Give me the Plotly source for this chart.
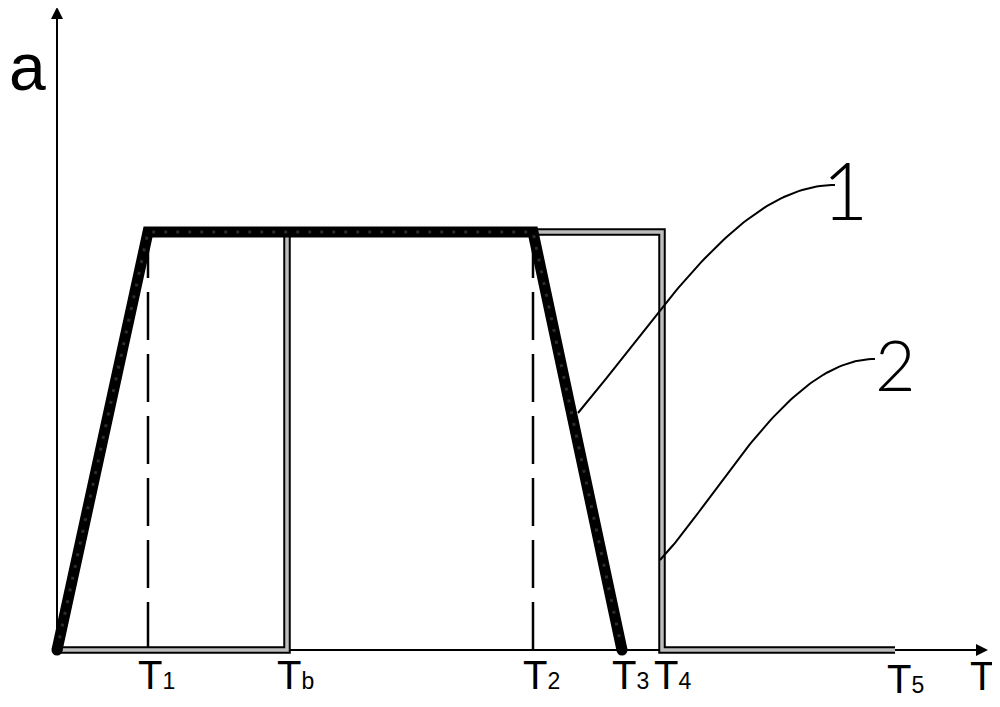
import numpy as np
import plotly.graph_objects as go

# ---- data (time positions and acceleration level) ----
T1, Tb, T2, T3, T4, T5 = 91, 230, 476, 565, 605, 838
A_MAX = 418
X_AXIS_END = 931
Y_AXIS_END = 643

c1_x = [0, T1, T2, T3]
c1_y = [0, A_MAX, A_MAX, 0]

c2_x = [0, Tb, Tb, T4, T4, T5]
c2_y = [0, 0, A_MAX, A_MAX, 0, 0]

tick_pos = [T1, Tb, T2, T3, T4, T5]
tick_sub = ["1", "b", "2", "3", "4", "5"]

leader1 = [(521, 237), (600, 330), (680, 465), (778, 465)]
leader2 = [(603, 90), (660, 150), (730, 291), (818, 291)]


def bezier(pts, n=80):
    t = np.linspace(0, 1, n)
    p = np.array(pts, dtype=float)
    b = ((1 - t) ** 3)[:, None] * p[0] + (3 * (1 - t) ** 2 * t)[:, None] * p[1] \
        + (3 * (1 - t) * t ** 2)[:, None] * p[2] + (t ** 3)[:, None] * p[3]
    return b[:, 0], b[:, 1]


fig = go.Figure()
for tx in (T1, T2):
    fig.add_trace(go.Scatter(x=[tx, tx], y=[0, A_MAX], mode="lines",
                             line=dict(color="black", width=2.5, dash="48px,14px"),
                             hoverinfo="skip"))
fig.add_trace(go.Scatter(x=[0, X_AXIS_END - 6], y=[0, 0], mode="lines",
                         line=dict(color="black", width=2), hoverinfo="skip"))
fig.add_trace(go.Scatter(x=[0, 0], y=[0, Y_AXIS_END - 6], mode="lines",
                         line=dict(color="black", width=2), hoverinfo="skip"))
fig.add_trace(go.Scatter(x=c2_x, y=c2_y, mode="lines",
                         line=dict(color="black", width=7.5), hoverinfo="skip"))
fig.add_trace(go.Scatter(x=c2_x, y=c2_y, mode="lines",
                         line=dict(color="#bdbdbd", width=3.5), hoverinfo="skip"))
fig.add_trace(go.Scatter(x=c1_x, y=c1_y, mode="lines",
                         line=dict(color="black", width=11), hoverinfo="skip"))
fig.add_trace(go.Scatter(x=c1_x, y=c1_y, mode="lines",
                         line=dict(color="#2c2c2c", width=3, dash="3px,9px"),
                         hoverinfo="skip"))
fig.add_trace(go.Scatter(x=[c1_x[0], c1_x[-1]], y=[c1_y[0], c1_y[-1]], mode="markers",
                         marker=dict(color="black", size=11), hoverinfo="skip"))
for pts in (leader1, leader2):
    bx, by = bezier(pts)
    fig.add_trace(go.Scatter(x=bx, y=by, mode="lines",
                             line=dict(color="black", width=2), hoverinfo="skip"))

annotations = []
annotations.append(dict(x=X_AXIS_END, y=0, ax=X_AXIS_END - 12, ay=0, xref="x", yref="y",
                        axref="x", ayref="y", showarrow=True, arrowhead=2, arrowsize=1.2,
                        arrowwidth=2, arrowcolor="black", text=""))
annotations.append(dict(x=0, y=Y_AXIS_END, ax=0, ay=Y_AXIS_END - 12, xref="x", yref="y",
                        axref="x", ayref="y", showarrow=True, arrowhead=2, arrowsize=1.2,
                        arrowwidth=2, arrowcolor="black", text=""))
for tx, sub in zip(tick_pos, tick_sub):
    dy = -29 if sub == "5" else -25
    shift = -10 if sub in ("4", "5") else -12
    annotations.append(dict(x=tx, y=dy, xref="x", yref="y", showarrow=False,
                            xanchor="left", yanchor="middle", xshift=shift,
                            text="T<span style='font-size:23px'>%s</span>" % sub,
                            font=dict(family="Liberation Sans, Arial", size=40, color="black")))
annotations.append(dict(x=925, y=-26, xref="x", yref="y", showarrow=False,
                        xanchor="center", yanchor="middle", text="T",
                        font=dict(family="Liberation Sans, Arial", size=40, color="black")))
annotations.append(dict(x=-30, y=583, xref="x", yref="y", showarrow=False,
                        xanchor="center", yanchor="middle", text="a",
                        font=dict(family="Liberation Sans, Arial", size=66, color="black")))
annotations.append(dict(x=788, y=461, xref="x", yref="y", showarrow=False,
                        xanchor="center", yanchor="middle", text="1",
                        font=dict(family="Lato", size=80, weight=300, color="black")))
annotations.append(dict(x=838, y=286, xref="x", yref="y", showarrow=False,
                        xanchor="center", yanchor="middle", text="2",
                        font=dict(family="Lato", size=70, weight=300, color="black")))

fig.update_layout(
    width=1000, height=707,
    margin=dict(l=0, r=0, t=0, b=0),
    paper_bgcolor="white", plot_bgcolor="white",
    showlegend=False,
    xaxis=dict(range=[-49, 951], visible=False, fixedrange=True),
    yaxis=dict(range=[-65, 642], visible=False, fixedrange=True),
    annotations=annotations,
)

fig.write_html("out.html")
